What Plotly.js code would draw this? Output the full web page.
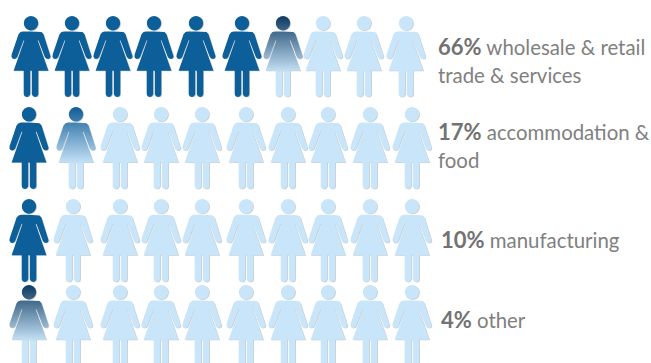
<!DOCTYPE html>
<html>
<head>
<meta charset="utf-8">
<script src="https://cdn.plot.ly/plotly-3.0.1.min.js"></script>
<style>html,body{margin:0;padding:0;background:#fff;overflow:hidden}</style>
</head>
<body>
<div id="chart" style="width:651px;height:363px"></div>
<script>
// Share of women by industry, one figure per ten percent
const categories = [["wholesale & retail", "trade & services"], ["accommodation &", "food"], ["manufacturing"], ["other"]];
const shares = [66, 17, 10, 4];

// Placement of each row of figures
const rowTops = [16, 107, 199, 285];
const rowHeights = [81, 82, 83, 81];
const rowCentres = [
  [31, 72, 113, 154, 196, 242, 283, 323, 364, 406],
  [29, 76, 120, 161, 202, 246, 288, 328, 370, 412],
  [29, 73, 120, 161, 202, 246, 288, 328, 370, 412],
  [29, 73, 120, 161, 202, 246, 288, 328, 370, 412]
];
const labelX = [436, 436, 439, 439];
const labelY = [46.5, 131.5, 239.5, 319.5];
const labelLineGap = 28;

const colourFull = "#0c5f98";
const colourEmpty = "#c9e5f9";
const colourEdge = "rgba(105,115,125,0.38)";
const partialTop = ["#0d3a60", "#0f5c96", "#0d3a60", "#0d3a60"];

// Right half of the figure outline, dx from the centre line, dy from the head top
const halfBody = [
  [0, 15.4], [8, 15.4], [10.5, 16], [12.5, 18.2], [19.2, 38], [19.6, 40.5], [18.8, 42.3],
  [17, 43], [15.2, 42.4], [13.8, 41], [7.4, 24.2], [6.7, 24.6], [17.4, 54.8], [7.3, 54.8],
  [7.3, 78.3], [6.4, 80.2], [4.2, 81], [2, 80.2], [0.8, 78.3], [0.8, 54.8], [0, 54.8]
];
const headRadius = 7.2;

function figureOutline(cx, top, height) {
  const k = height / 81;
  const xs = [], ys = [];
  for (let a = 0; a <= 360; a += 20) {
    const t = a * Math.PI / 180;
    xs.push(cx + headRadius * Math.sin(t));
    ys.push(top + (headRadius + headRadius * Math.cos(t)) * k);
  }
  xs.push(null); ys.push(null);
  halfBody.forEach(p => { xs.push(cx + p[0]); ys.push(top + p[1] * k); });
  halfBody.slice().reverse().slice(1).forEach(p => { xs.push(cx - p[0]); ys.push(top + p[1] * k); });
  return { x: xs, y: ys };
}

const traces = [];
const shadowX = [], shadowY = [];
rowCentres.forEach((centres, r) => {
  centres.forEach(cx => {
    const o = figureOutline(cx + 0.7, rowTops[r] + 0.5, rowHeights[r]);
    shadowX.push(...o.x, null);
    shadowY.push(...o.y, null);
  });
});
traces.push({
  x: shadowX, y: shadowY, mode: "lines", fill: "toself",
  fillcolor: colourEdge, line: { width: 0 }, hoverinfo: "skip"
});

rowCentres.forEach((centres, r) => {
  const filled = shares[r] / 10;
  centres.forEach((cx, i) => {
    const portion = Math.max(0, Math.min(1, filled - i));
    const o = figureOutline(cx, rowTops[r], rowHeights[r]);
    const t = { x: o.x, y: o.y, mode: "lines", fill: "toself", line: { width: 0 }, hoverinfo: "skip" };
    if (portion === 1) t.fillcolor = colourFull;
    else if (portion === 0) t.fillcolor = colourEmpty;
    else t.fillgradient = {
      type: "vertical",
      start: rowTops[r],
      stop: rowTops[r] + 57 * rowHeights[r] / 81,
      colorscale: [[0, partialTop[r]], [1, colourEmpty]]
    };
    traces.push(t);
  });
});

// One annotation per text line so the line spacing stays fixed
const labelFont = { family: "Lato, 'Open Sans', sans-serif", size: 20.4, color: "#808080" };
const annotations = [];
categories.forEach((lines, r) => {
  lines.forEach((line, n) => {
    annotations.push({
      x: labelX[r], y: labelY[r] + n * labelLineGap, xref: "x", yref: "y",
      xanchor: "left", yanchor: "middle", align: "left", showarrow: false,
      text: (n === 0 ? "<b style='color:#727272;font-size:22px'>" + shares[r] + "%</b> " : "") + line,
      font: labelFont
    });
  });
});

Plotly.newPlot("chart", traces, {
  width: 651, height: 363,
  margin: { l: 0, r: 0, t: 0, b: 0 },
  paper_bgcolor: "#fff", plot_bgcolor: "#fff",
  showlegend: false,
  xaxis: { range: [0, 651], visible: false, fixedrange: true },
  yaxis: { range: [363, 0], visible: false, fixedrange: true },
  annotations
}, { displayModeBar: false, staticPlot: true });
</script>
</body>
</html>
